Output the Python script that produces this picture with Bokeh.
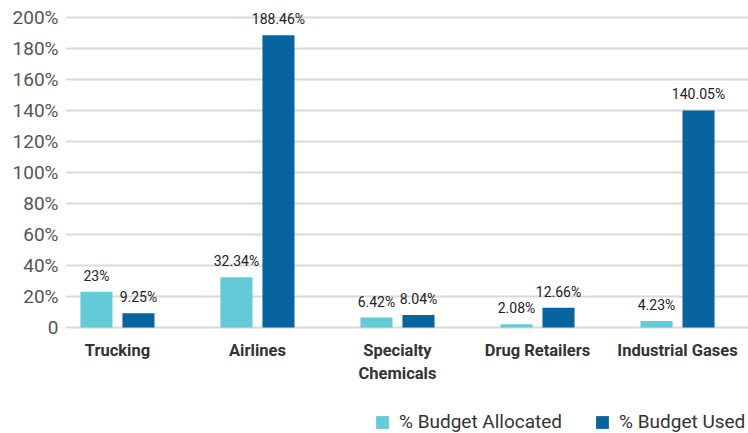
import numpy as np
from bokeh.plotting import figure
from bokeh.models import (ColumnDataSource, Range1d, FixedTicker, Legend, LegendItem, LabelSet)
from bokeh.core.properties import value
from bokeh.transform import dodge
from bokeh.embed import file_html
from bokeh.resources import INLINE

categories = ["Trucking", "Airlines", "Specialty\nChemicals", "Drug Retailers", "Industrial Gases"]
allocated = [23, 32.34, 6.42, 2.08, 4.23]
used = [9.25, 188.46, 8.04, 12.66, 140.05]
y_ticks = [0, 20, 40, 60, 80, 100, 120, 140, 160, 180, 200]
y_tick_labels = ["0", "20%", "40%", "60%", "80%", "100%", "120%", "140%", "160%", "180%", "200%"]

LIGHT = "#63cad8"
DARK = "#08649e"
FONT = "Roboto"

pos = list(range(len(categories)))
src = ColumnDataSource(dict(
    x=pos,
    allocated=allocated,
    used=used,
    alloc_lbl=[f"{v:g}%" for v in allocated],
    used_lbl=[f"{v:g}%" for v in used],
))

p = figure(width=748, height=433, output_backend="svg", toolbar_location=None,
           x_range=Range1d(-0.371, 4.507), y_range=Range1d(-68.4, 204.5),
           min_border_left=65, min_border_right=0, min_border_top=10, min_border_bottom=0)
p.outline_line_color = None
p.background_fill_color = "white"
p.border_fill_color = "white"

off = 0.15
bw = 0.229
r1 = p.vbar(x=dodge("x", -off, range=p.x_range), top="allocated", width=bw, source=src,
            fill_color=LIGHT, line_color=None)
r2 = p.vbar(x=dodge("x", off, range=p.x_range), top="used", width=bw, source=src,
            fill_color=DARK, line_color=None)

for col, lbl, d in (("allocated", "alloc_lbl", -off), ("used", "used_lbl", off)):
    ls = LabelSet(x=dodge("x", d, range=p.x_range), y=col, text=lbl, source=src,
                  text_align="center", text_baseline="bottom", y_offset=8,
                  text_font=value(FONT), text_font_size=value("14px"), text_color="#222222")
    p.add_layout(ls)

# axes
p.xgrid.grid_line_color = None
p.ygrid.grid_line_color = "#d9d9d9"
p.ygrid.grid_line_width = 2
p.yaxis.ticker = FixedTicker(ticks=y_ticks)
p.yaxis.major_label_overrides = {t: l for t, l in zip(y_ticks, y_tick_labels)}
p.yaxis.axis_line_color = None
p.yaxis.major_tick_line_color = None
p.yaxis.minor_tick_line_color = None
p.yaxis.major_tick_out = 0
p.yaxis.major_tick_in = 0
p.yaxis.major_label_standoff = 7
p.yaxis.major_label_text_font = FONT
p.yaxis.major_label_text_font_size = "19px"
p.yaxis.major_label_text_color = "#555555"

p.xaxis.ticker = FixedTicker(ticks=pos)
p.xaxis.major_label_overrides = {i: c for i, c in zip(pos, categories)}
p.xaxis.fixed_location = 0
p.xaxis.axis_line_color = None
p.xaxis.major_tick_line_color = None
p.xaxis.minor_tick_line_color = None
p.xaxis.major_tick_out = 0
p.xaxis.major_tick_in = 0
p.xaxis.major_label_standoff = 14
p.xaxis.major_label_text_font = FONT
p.xaxis.major_label_text_font_size = "16.5px"
p.xaxis.major_label_text_font_style = "bold"
p.xaxis.major_label_text_color = "#333333"

legend = Legend(items=[LegendItem(label="% Budget Allocated", renderers=[r1]),
                       LegendItem(label="% Budget Used", renderers=[r2])],
                orientation="horizontal", location=(309, 0),
                margin=0, padding=0, spacing=32, label_standoff=9,
                glyph_width=16, glyph_height=16,
                label_text_font=FONT, label_text_font_size="19px", label_text_color="#333333",
                border_line_color=None, background_fill_alpha=0)
p.add_layout(legend, "center")

open("out.html", "w").write(file_html(p, INLINE))
